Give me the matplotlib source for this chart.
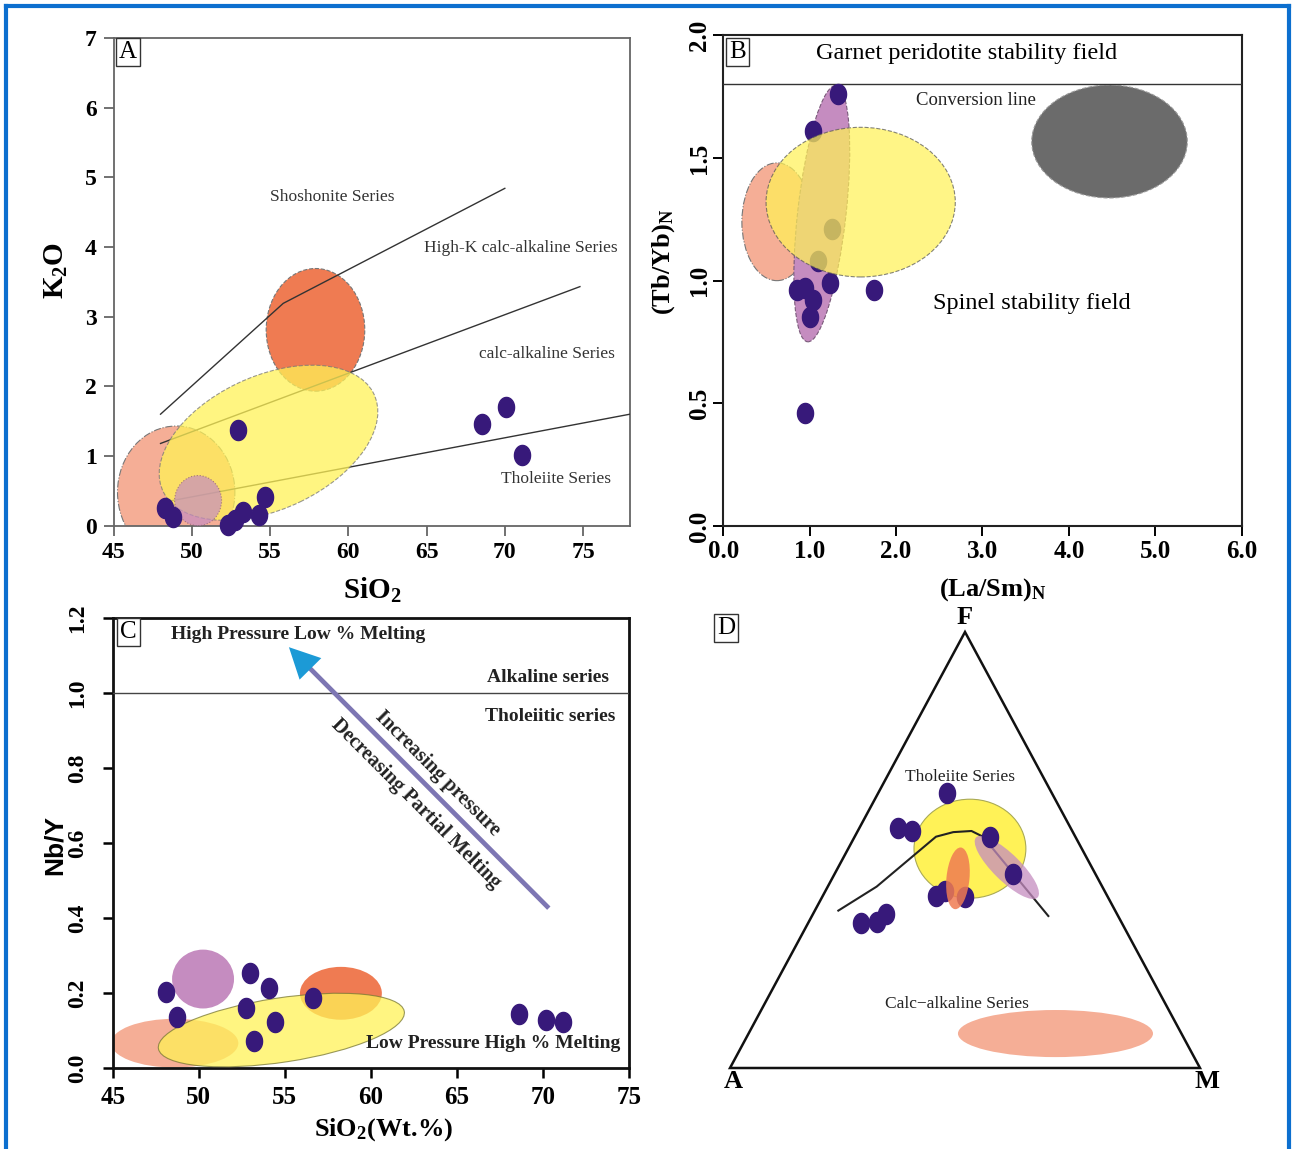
import numpy as np
import matplotlib
matplotlib.use('Agg')
import matplotlib.pyplot as plt
from matplotlib.patches import Ellipse, Polygon
from matplotlib.path import Path
from matplotlib.lines import Line2D
from matplotlib.ticker import FormatStrFormatter

plt.rcParams['font.family'] = ['Liberation Serif', 'DejaVu Serif']
plt.rcParams['mathtext.fontset'] = 'custom'
plt.rcParams['mathtext.rm'] = 'Liberation Serif'
plt.rcParams['mathtext.bf'] = 'Liberation Serif:bold'
plt.rcParams['mathtext.it'] = 'Liberation Serif:italic'

W, H = 1292, 1149

# ---------------- datos ----------------
# A : K2O vs SiO2
a_sio2 = [52.96, 48.28, 48.81, 52.33, 52.75, 53.28, 54.30, 54.67, 68.52, 70.06, 71.08]
a_k2o = [1.37, 0.25, 0.13, 0.01, 0.08, 0.20, 0.15, 0.41, 1.46, 1.70, 1.01]
shosh_x, shosh_y = [48, 55.84, 70], [1.60, 3.19, 4.84]
highk_x, highk_y = [48, 74.8], [1.18, 3.43]
thol_x, thol_y = [48.5, 78], [0.35, 1.60]
# campos (cx, cy, ancho, alto, angulo)
a_salmon = (49.0, 0.48, 7.5, 1.9, 0)
a_yellow = (54.9, 1.19, 15.0, 1.90, 27)
a_orange = (57.9, 2.81, 6.3, 1.76, 0)
a_mauve = (50.4, 0.36, 3.0, 0.72, 0)

# B : (Tb/Yb)N vs (La/Sm)N
b_lasm = [1.33, 1.04, 1.26, 1.10, 0.85, 0.95, 1.04, 1.00, 1.24, 1.75, 0.94]
b_tbyb = [1.76, 1.61, 1.21, 1.08, 0.96, 0.97, 0.92, 0.85, 0.99, 0.96, 0.46]
conversion = 1.8
b_salmon = (0.62, 1.24, 0.81, 0.48, 0)
b_mauve = (1.14, 1.273, 0.56, 1.05, -6)
b_yellow = (1.59, 1.32, 2.19, 0.61, 0)
b_gray = (4.47, 1.567, 1.80, 0.46, 0)

# C : Nb/Y vs SiO2
c_sio2 = [48.10, 48.73, 53.00, 54.08, 52.74, 54.43, 53.20, 56.65, 68.59, 70.17, 71.16]
c_nby = [0.204, 0.136, 0.253, 0.215, 0.160, 0.124, 0.073, 0.187, 0.145, 0.129, 0.123]
c_salmon = (48.6, 0.067, 7.4, 0.13, 0)
c_yellow = (54.8, 0.102, 14.5, 0.171, 10)
c_mauve = (50.25, 0.238, 3.6, 0.157, 0)
c_orange = (58.26, 0.200, 4.76, 0.141, 0)
arrow_tail = (70.34, 0.427)
arrow_base = (56.45, 1.067)
arrow_tip = (55.24, 1.123)

# D : diagrama AFM (fracciones F, M)
d_F = [0.630, 0.550, 0.544, 0.529, 0.445, 0.394, 0.407, 0.392, 0.332, 0.336, 0.353]
d_M = [0.146, 0.083, 0.116, 0.289, 0.380, 0.241, 0.254, 0.303, 0.112, 0.144, 0.155]
ib_F = [0.361, 0.416, 0.5305, 0.541, 0.5436, 0.5305, 0.3486]
ib_M = [0.050, 0.104, 0.173, 0.2045, 0.242, 0.273, 0.503]
# campos (F, M, ancho, alto, angulo)
d_yellow = (0.503, 0.259, 0.238, 0.227, 0)
d_orange = (0.435, 0.2675, 0.049, 0.142, -5)
d_mauve = (0.460, 0.359, 0.19, 0.06, -47)
d_salmon = (0.079, 0.653, 0.415, 0.108, 0)

SALMON = '#f5ae96'
YELLOW = '#fff257'
ORANGE = '#ef7b52'
MAUVE = '#c58cc0'
GRAY = '#6b6b6b'
DOT = '#37197a'

# marcador eliptico (mas alto que ancho)
tt = np.linspace(0, 2 * np.pi, 60)
dot_marker = Path(np.column_stack([0.4 * np.cos(tt), 0.5 * np.sin(tt)]), closed=True)


def campo(ax, spec, fc, alpha=1.0, ec='#777777', ls='--', z=1):
    cx, cy, w, h, ang = spec
    x0, x1 = ax.get_xlim()
    y0, y1 = ax.get_ylim()
    centro = ax.transLimits.transform((cx, cy))
    e = Ellipse(centro, w / (x1 - x0), h / (y1 - y0), angle=ang,
                transform=ax.transAxes, fc=fc, ec=ec, lw=0.8, ls=ls,
                alpha=alpha, zorder=z)
    ax.add_patch(e)


def etiqueta(ax, s, x, y):
    ax.text(x, y, s, transform=ax.transAxes, fontsize=18, ha='center', va='center',
            bbox=dict(boxstyle='square,pad=0.12', fc='white', ec='#333333', lw=1),
            zorder=10)


def ticks_bold(ax, size_x, size_y):
    for lb in ax.get_xticklabels():
        lb.set_fontweight('bold')
        lb.set_fontsize(size_x)
    for lb in ax.get_yticklabels():
        lb.set_fontweight('bold')
        lb.set_fontsize(size_y)


def rotulo(ax, x, y, base, sub, tail='', rot=0, size=20, fam=None):
    # texto con subindice pequeño, como en la figura original
    s = base + r'$_{\mathbf{' + sub + r'}}$' + tail
    kw = dict(transform=ax.transAxes, rotation=rot, fontsize=size,
              fontweight='bold', ha='center', va='center')
    if fam:
        kw['family'] = fam
    ax.text(x, y, s, **kw)


fig = plt.figure(figsize=(W / 100, H / 100), dpi=100)
plt.rcParams['mathtext.default'] = 'bf'

# ================= A =================
axA = fig.add_axes([113.6 / W, 1 - 525.7 / H, 516.4 / W, 487.9 / H])
axA.set_xlim(45, 78)
axA.set_ylim(0, 7)
axA.set_xticks([45, 50, 55, 60, 65, 70, 75])
axA.set_yticks(range(0, 8))
for s in axA.spines.values():
    s.set_color('#666666')
    s.set_linewidth(1.3)
axA.tick_params(direction='out', length=7, width=1.3, color='#666666', pad=5)
ticks_bold(axA, 17, 17)

campo(axA, a_salmon, SALMON, ls='-.', z=1)
campo(axA, a_orange, ORANGE, z=2)
axA.plot(shosh_x, shosh_y, color='#333333', lw=1, zorder=3)
axA.plot(highk_x, highk_y, color='#333333', lw=1, zorder=3)
axA.plot(thol_x, thol_y, color='#333333', lw=1, zorder=3)
campo(axA, a_yellow, YELLOW, alpha=0.75, z=4)
campo(axA, a_mauve, MAUVE, alpha=0.7, ec='#8a5a70', ls=':', z=5)
axA.scatter(a_sio2, a_k2o, s=210, marker=dot_marker, color=DOT, zorder=6, clip_on=False)

axA.text(58.95, 4.72, 'Shoshonite Series', fontsize=12.5, color='#333333', ha='center', va='center')
axA.text(71.0, 3.98, 'High-K calc-alkaline Series', fontsize=12.5, color='#333333', ha='center', va='center')
axA.text(72.7, 2.46, 'calc-alkaline Series', fontsize=12.5, color='#333333', ha='center', va='center')
axA.text(73.3, 0.67, 'Tholeiite Series', fontsize=12.5, color='#333333', ha='center', va='center')
etiqueta(axA, 'A', 0.027, 0.971)
rotulo(axA, -0.11, 0.524, 'K', '2', 'O', rot=90, size=21)
rotulo(axA, 0.5, -0.132, 'SiO', '2', size=21)

# ================= B =================
axB = fig.add_axes([723.3 / W, 1 - 526 / H, 518.4 / W, 490.7 / H])
axB.set_xlim(0, 6)
axB.set_ylim(0, 2)
axB.set_xticks(np.arange(0, 7, 1.0))
axB.set_yticks(np.arange(0, 2.01, 0.5))
axB.xaxis.set_major_formatter(FormatStrFormatter('%.1f'))
axB.yaxis.set_major_formatter(FormatStrFormatter('%.1f'))
for s in axB.spines.values():
    s.set_color('#222222')
    s.set_linewidth(1.5)
axB.tick_params(direction='out', length=7, width=1.4, pad=3)
axB.tick_params(axis='y', labelrotation=90, pad=2)
ticks_bold(axB, 18, 18)
for lb in axB.get_yticklabels():
    lb.set_va('center')

axB.axhline(conversion, color='#333333', lw=1, zorder=3)
campo(axB, b_salmon, SALMON, ls='-.', z=1)
campo(axB, b_mauve, MAUVE, ec='#7a5a7a', z=2)
campo(axB, b_gray, GRAY, ec='#999999', z=2)
axB.scatter(b_lasm, b_tbyb, s=210, marker=dot_marker, color=DOT, zorder=3)
campo(axB, b_yellow, YELLOW, alpha=0.72, ec='#555555', z=4)

axB.text(2.81, 1.925, 'Garnet peridotite stability field', fontsize=17.5, ha='center', va='center')
axB.text(2.92, 1.735, 'Conversion line', fontsize=13.5, color='#222222', ha='center', va='center')
axB.text(3.57, 0.905, 'Spinel stability field', fontsize=17.5, ha='center', va='center')
etiqueta(axB, 'B', 0.028, 0.966)
rotulo(axB, -0.116, 0.538, '(Tb/Yb)', 'N', rot=90, size=19)
rotulo(axB, 0.52, -0.13, '(La/Sm)', 'N', size=19)

# ================= C =================
axC = fig.add_axes([112.7 / W, 1 - 1068.3 / H, 516.3 / W, 450 / H])
axC.set_xlim(45, 75)
axC.set_ylim(0, 1.2)
axC.set_xticks([45, 50, 55, 60, 65, 70, 75])
axC.set_yticks(np.arange(0, 1.21, 0.2))
axC.yaxis.set_major_formatter(FormatStrFormatter('%.1f'))
for s in axC.spines.values():
    s.set_color('#111111')
    s.set_linewidth(2)
axC.tick_params(direction='out', length=7, width=1.8)
axC.tick_params(axis='x', pad=6)
axC.tick_params(axis='y', labelrotation=90, pad=11)
ticks_bold(axC, 18, 17)
for lb in axC.get_yticklabels():
    lb.set_va('center')

axC.axhline(1.0, color='#444444', lw=1, zorder=3)
campo(axC, c_salmon, SALMON, ec='none', z=1)
campo(axC, c_orange, ORANGE, ec='none', z=2)
campo(axC, c_mauve, MAUVE, ec='none', z=2)
campo(axC, c_yellow, YELLOW, alpha=0.75, ec='#777733', ls='-', z=3)
axC.scatter(c_sio2, c_nby, s=210, marker=dot_marker, color=DOT, zorder=6)

axC.plot([arrow_tail[0], arrow_base[0]], [arrow_tail[1], arrow_base[1]],
         color='#7d76b3', lw=3.4, solid_capstyle='butt', zorder=5)
axC.annotate('', xy=arrow_tip, xytext=arrow_base,
             arrowprops=dict(arrowstyle='-|>,head_length=1.1,head_width=0.55',
                             color='#1c9ad6', lw=0, mutation_scale=20,
                             shrinkA=0, shrinkB=0), zorder=5)

bold_kw = dict(fontsize=14, fontweight='bold', color='#222222', va='center')
axC.text(55.8, 1.158, 'High Pressure Low % Melting', ha='center', **bold_kw)
axC.text(70.3, 1.041, 'Alkaline series', ha='center', **bold_kw)
axC.text(70.4, 0.937, 'Tholeiitic series', ha='center', **bold_kw)
axC.text(67.1, 0.065, 'Low Pressure High % Melting', ha='center', **bold_kw)
axC.text(63.9, 0.785, 'Increasing pressure', ha='center', rotation=-45,
         rotation_mode='anchor', fontsize=14.5, fontweight='bold', color='#222222', va='center')
axC.text(62.6, 0.705, 'Decreasing Partial Melting', ha='center', rotation=-45,
         rotation_mode='anchor', fontsize=14.5, fontweight='bold', color='#222222', va='center')
etiqueta(axC, 'C', 0.03, 0.969)
axC.text(-0.112, 0.496, 'Nb/Y', transform=axC.transAxes, rotation=90, family='Liberation Sans',
         fontsize=19, fontweight='bold', ha='center', va='center')
rotulo(axC, 0.524, -0.137, 'SiO', '2', '(Wt.%)', size=19)

# ================= D =================
axD = fig.add_axes([730 / W, 1 - 1068 / H, 470 / W, 436 / H])
axD.set_xlim(0, 1)
axD.set_ylim(0, 1)
axD.axis('off')


def afm(F, M):
    F = np.asarray(F, dtype=float)
    M = np.asarray(M, dtype=float)
    return M + F / 2, F


def campo_afm(spec, fc, alpha=1.0, ec='none', z=1):
    F, M, w, h, ang = spec
    x, y = afm(F, M)
    axD.add_patch(Ellipse((x, y), w, h, angle=ang, fc=fc, ec=ec, lw=0.8,
                          alpha=alpha, zorder=z))


tri_x, tri_y = afm([0, 0, 1], [0, 1, 0])
axD.add_patch(Polygon(np.column_stack([tri_x, tri_y]), closed=True, fill=False,
                      ec='#111111', lw=1.8, zorder=1, clip_on=False))
campo_afm(d_salmon, SALMON, z=2)
campo_afm(d_yellow, YELLOW, ec='#aaaa55', z=2)
ibx, iby = afm(ib_F, ib_M)
axD.plot(ibx, iby, color='#222222', lw=1.5, zorder=3)
campo_afm(d_mauve, MAUVE, alpha=0.75, z=4)
px, py = afm(d_F, d_M)
axD.scatter(px, py, s=210, marker=dot_marker, color=DOT, zorder=5, clip_on=False)
campo_afm(d_orange, ORANGE, alpha=0.85, z=6)

axD.text(0.489, 0.667, 'Tholeiite Series', fontsize=12.5, color='#222222', ha='center', va='center')
axD.text(0.483, 0.147, 'Calc\u2212alkaline Series', fontsize=12.5, color='#222222', ha='center', va='center')
axD.text(0.5, 1.034, 'F', fontsize=19, fontweight='bold', ha='center', va='center')
axD.text(0.006, -0.032, 'A', fontsize=19, fontweight='bold', ha='center', va='center')
axD.text(1.015, -0.032, 'M', fontsize=19, fontweight='bold', ha='center', va='center')
axD.text(-0.0085, 1.009, 'D', fontsize=18, ha='center', va='center', clip_on=False,
         bbox=dict(boxstyle='square,pad=0.12', fc='white', ec='#333333', lw=1))

# marco azul
azul = '#0c6fcf'
bx0, bx1, by1 = 5.5 / W, 1289 / W, 1 - 5.5 / H
fig.add_artist(Line2D([bx0, bx0], [0, by1], transform=fig.transFigure, color=azul, lw=3))
fig.add_artist(Line2D([bx0, bx1], [by1, by1], transform=fig.transFigure, color=azul, lw=3))
fig.add_artist(Line2D([bx1, bx1], [by1, 0], transform=fig.transFigure, color=azul, lw=3))

fig.savefig('out.png', dpi=100)
